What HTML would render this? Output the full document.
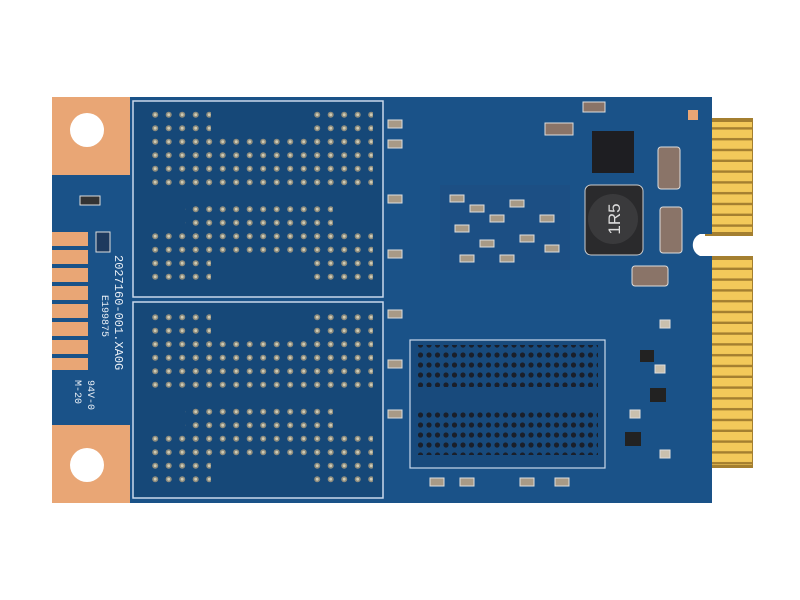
<!DOCTYPE html>
<html><head><style>html,body{margin:0;padding:0;background:#fff;width:800px;height:600px;overflow:hidden}</style></head>
<body>
<svg width="800" height="600" viewBox="0 0 800 600" xmlns="http://www.w3.org/2000/svg">
<defs>
<pattern id="bga" x="0" y="0" width="13.5" height="13.5" patternUnits="userSpaceOnUse">
<circle cx="6.7" cy="6.7" r="3" fill="#8f8d7e"/><circle cx="6.7" cy="6.7" r="1.4" fill="#cfcbb4"/>
</pattern>
<pattern id="bga2" x="0" y="0" width="8.5" height="10" patternUnits="userSpaceOnUse">
<circle cx="4" cy="5" r="2.6" fill="#1a1f2a"/>
</pattern>
<pattern id="gold" x="0" y="0" width="40" height="10.8" patternUnits="userSpaceOnUse">
<rect x="0" y="0" width="40" height="8.4" fill="#f3c95a"/>
</pattern>
</defs>
<rect x="705" y="118" width="48" height="118" fill="#a47f30"/>
<rect x="705" y="256" width="48" height="212" fill="#a47f30"/>
<rect x="712" y="122" width="40" height="110" fill="url(#gold)"/>
<rect x="712" y="260" width="40" height="205" fill="url(#gold)"/>
<path d="M52 97 H712 V234 H700 A12 12 0 0 0 700 256 H712 V503 H52 Z" fill="#1a5288"/>
<rect x="52" y="97" width="78" height="78" fill="#e9a675"/>
<circle cx="87" cy="130" r="17" fill="#fff"/>
<rect x="52" y="425" width="78" height="78" fill="#e9a675"/>
<circle cx="87" cy="465" r="17" fill="#fff"/>
<g fill="#e9a675">
<rect x="52" y="232" width="36" height="14"/><rect x="52" y="250" width="36" height="14"/>
<rect x="52" y="268" width="36" height="14"/><rect x="52" y="286" width="36" height="14"/>
<rect x="52" y="304" width="36" height="14"/><rect x="52" y="322" width="36" height="14"/>
<rect x="52" y="340" width="36" height="14"/><rect x="52" y="358" width="36" height="12"/>
</g>
<rect x="80" y="196" width="20" height="9" fill="#333" stroke="#ddd"/>
<rect x="96" y="232" width="14" height="20" fill="#1e3a5e" stroke="#ddd"/>
<rect x="133" y="101" width="250" height="196" fill="#164878" stroke="#c9d8ea" stroke-width="1.5"/>
<rect x="133" y="302" width="250" height="196" fill="#164878" stroke="#c9d8ea" stroke-width="1.5"/>
<rect x="145" y="108" width="66" height="82" fill="url(#bga)"/>
<rect x="307" y="108" width="66" height="82" fill="url(#bga)"/>
<rect x="185" y="135" width="148" height="54" fill="url(#bga)"/>
<rect x="185" y="203" width="148" height="54" fill="url(#bga)"/>
<rect x="145" y="230" width="66" height="55" fill="url(#bga)"/>
<rect x="307" y="230" width="66" height="55" fill="url(#bga)"/>
<rect x="145" y="310" width="66" height="82" fill="url(#bga)"/>
<rect x="307" y="310" width="66" height="82" fill="url(#bga)"/>
<rect x="185" y="337" width="148" height="54" fill="url(#bga)"/>
<rect x="185" y="405" width="148" height="54" fill="url(#bga)"/>
<rect x="145" y="432" width="66" height="55" fill="url(#bga)"/>
<rect x="307" y="432" width="66" height="55" fill="url(#bga)"/>
<rect x="410" y="340" width="195" height="128" fill="#184a7c" stroke="#c9d8ea" stroke-width="1.2"/>
<rect x="418" y="345" width="180" height="42" fill="url(#bga2)"/>
<rect x="418" y="410" width="180" height="45" fill="url(#bga2)"/>
<rect x="440" y="185" width="130" height="85" fill="#1c4f84"/>
<g fill="#a89a86" stroke="#ddd" stroke-width="1">
<rect x="450" y="195" width="14" height="7"/><rect x="470" y="205" width="14" height="7"/><rect x="490" y="215" width="14" height="7"/>
<rect x="510" y="200" width="14" height="7"/><rect x="455" y="225" width="14" height="7"/><rect x="480" y="240" width="14" height="7"/>
<rect x="520" y="235" width="14" height="7"/><rect x="540" y="215" width="14" height="7"/><rect x="460" y="255" width="14" height="7"/>
<rect x="500" y="255" width="14" height="7"/><rect x="545" y="245" width="14" height="7"/>
<rect x="388" y="120" width="14" height="8"/><rect x="388" y="140" width="14" height="8"/><rect x="388" y="195" width="14" height="8"/>
<rect x="388" y="250" width="14" height="8"/><rect x="388" y="310" width="14" height="8"/><rect x="388" y="360" width="14" height="8"/>
<rect x="388" y="410" width="14" height="8"/><rect x="430" y="478" width="14" height="8"/><rect x="460" y="478" width="14" height="8"/>
<rect x="520" y="478" width="14" height="8"/><rect x="555" y="478" width="14" height="8"/>
</g>
<rect x="592" y="131" width="42" height="42" fill="#1e1e22"/>
<rect x="585" y="185" width="58" height="70" rx="6" fill="#2a2a2c" stroke="#ccc"/>
<circle cx="613" cy="219" r="25" fill="#3a3a3c"/>
<text x="613" y="226" font-family="Liberation Sans, sans-serif" font-size="17" fill="#ddd" text-anchor="middle" transform="rotate(-90 613 219)">1R5</text>
<rect x="658" y="147" width="22" height="42" rx="3" fill="#8a7468" stroke="#ddd"/>
<rect x="660" y="207" width="22" height="46" rx="3" fill="#8a7468" stroke="#ddd"/>
<rect x="632" y="266" width="36" height="20" rx="3" fill="#8a7468" stroke="#ddd"/>
<rect x="545" y="123" width="28" height="12" fill="#8a7468" stroke="#ddd"/>
<rect x="583" y="102" width="22" height="10" fill="#8a7468" stroke="#ddd"/>
<rect x="688" y="110" width="10" height="10" fill="#e9a675"/>
<rect x="640" y="350" width="14" height="12" fill="#222"/>
<rect x="650" y="388" width="16" height="14" fill="#222"/>
<rect x="625" y="432" width="16" height="14" fill="#222"/>
<g fill="#c9c0ae" stroke="#ddd"><rect x="660" y="320" width="10" height="8"/><rect x="655" y="365" width="10" height="8"/><rect x="660" y="450" width="10" height="8"/><rect x="630" y="410" width="10" height="8"/></g>
<g font-family="Liberation Mono, monospace" fill="#e8eef5" font-size="12">
<text transform="translate(115 255) rotate(90)">2027160-001.XA0G</text>
<text transform="translate(102 295) rotate(90)" font-size="10">E199875</text>
<text transform="translate(88 380) rotate(90)" font-size="10">94V-0</text>
<text transform="translate(75 380) rotate(90)" font-size="10">M-20</text>
</g>
</svg>
</body></html>
